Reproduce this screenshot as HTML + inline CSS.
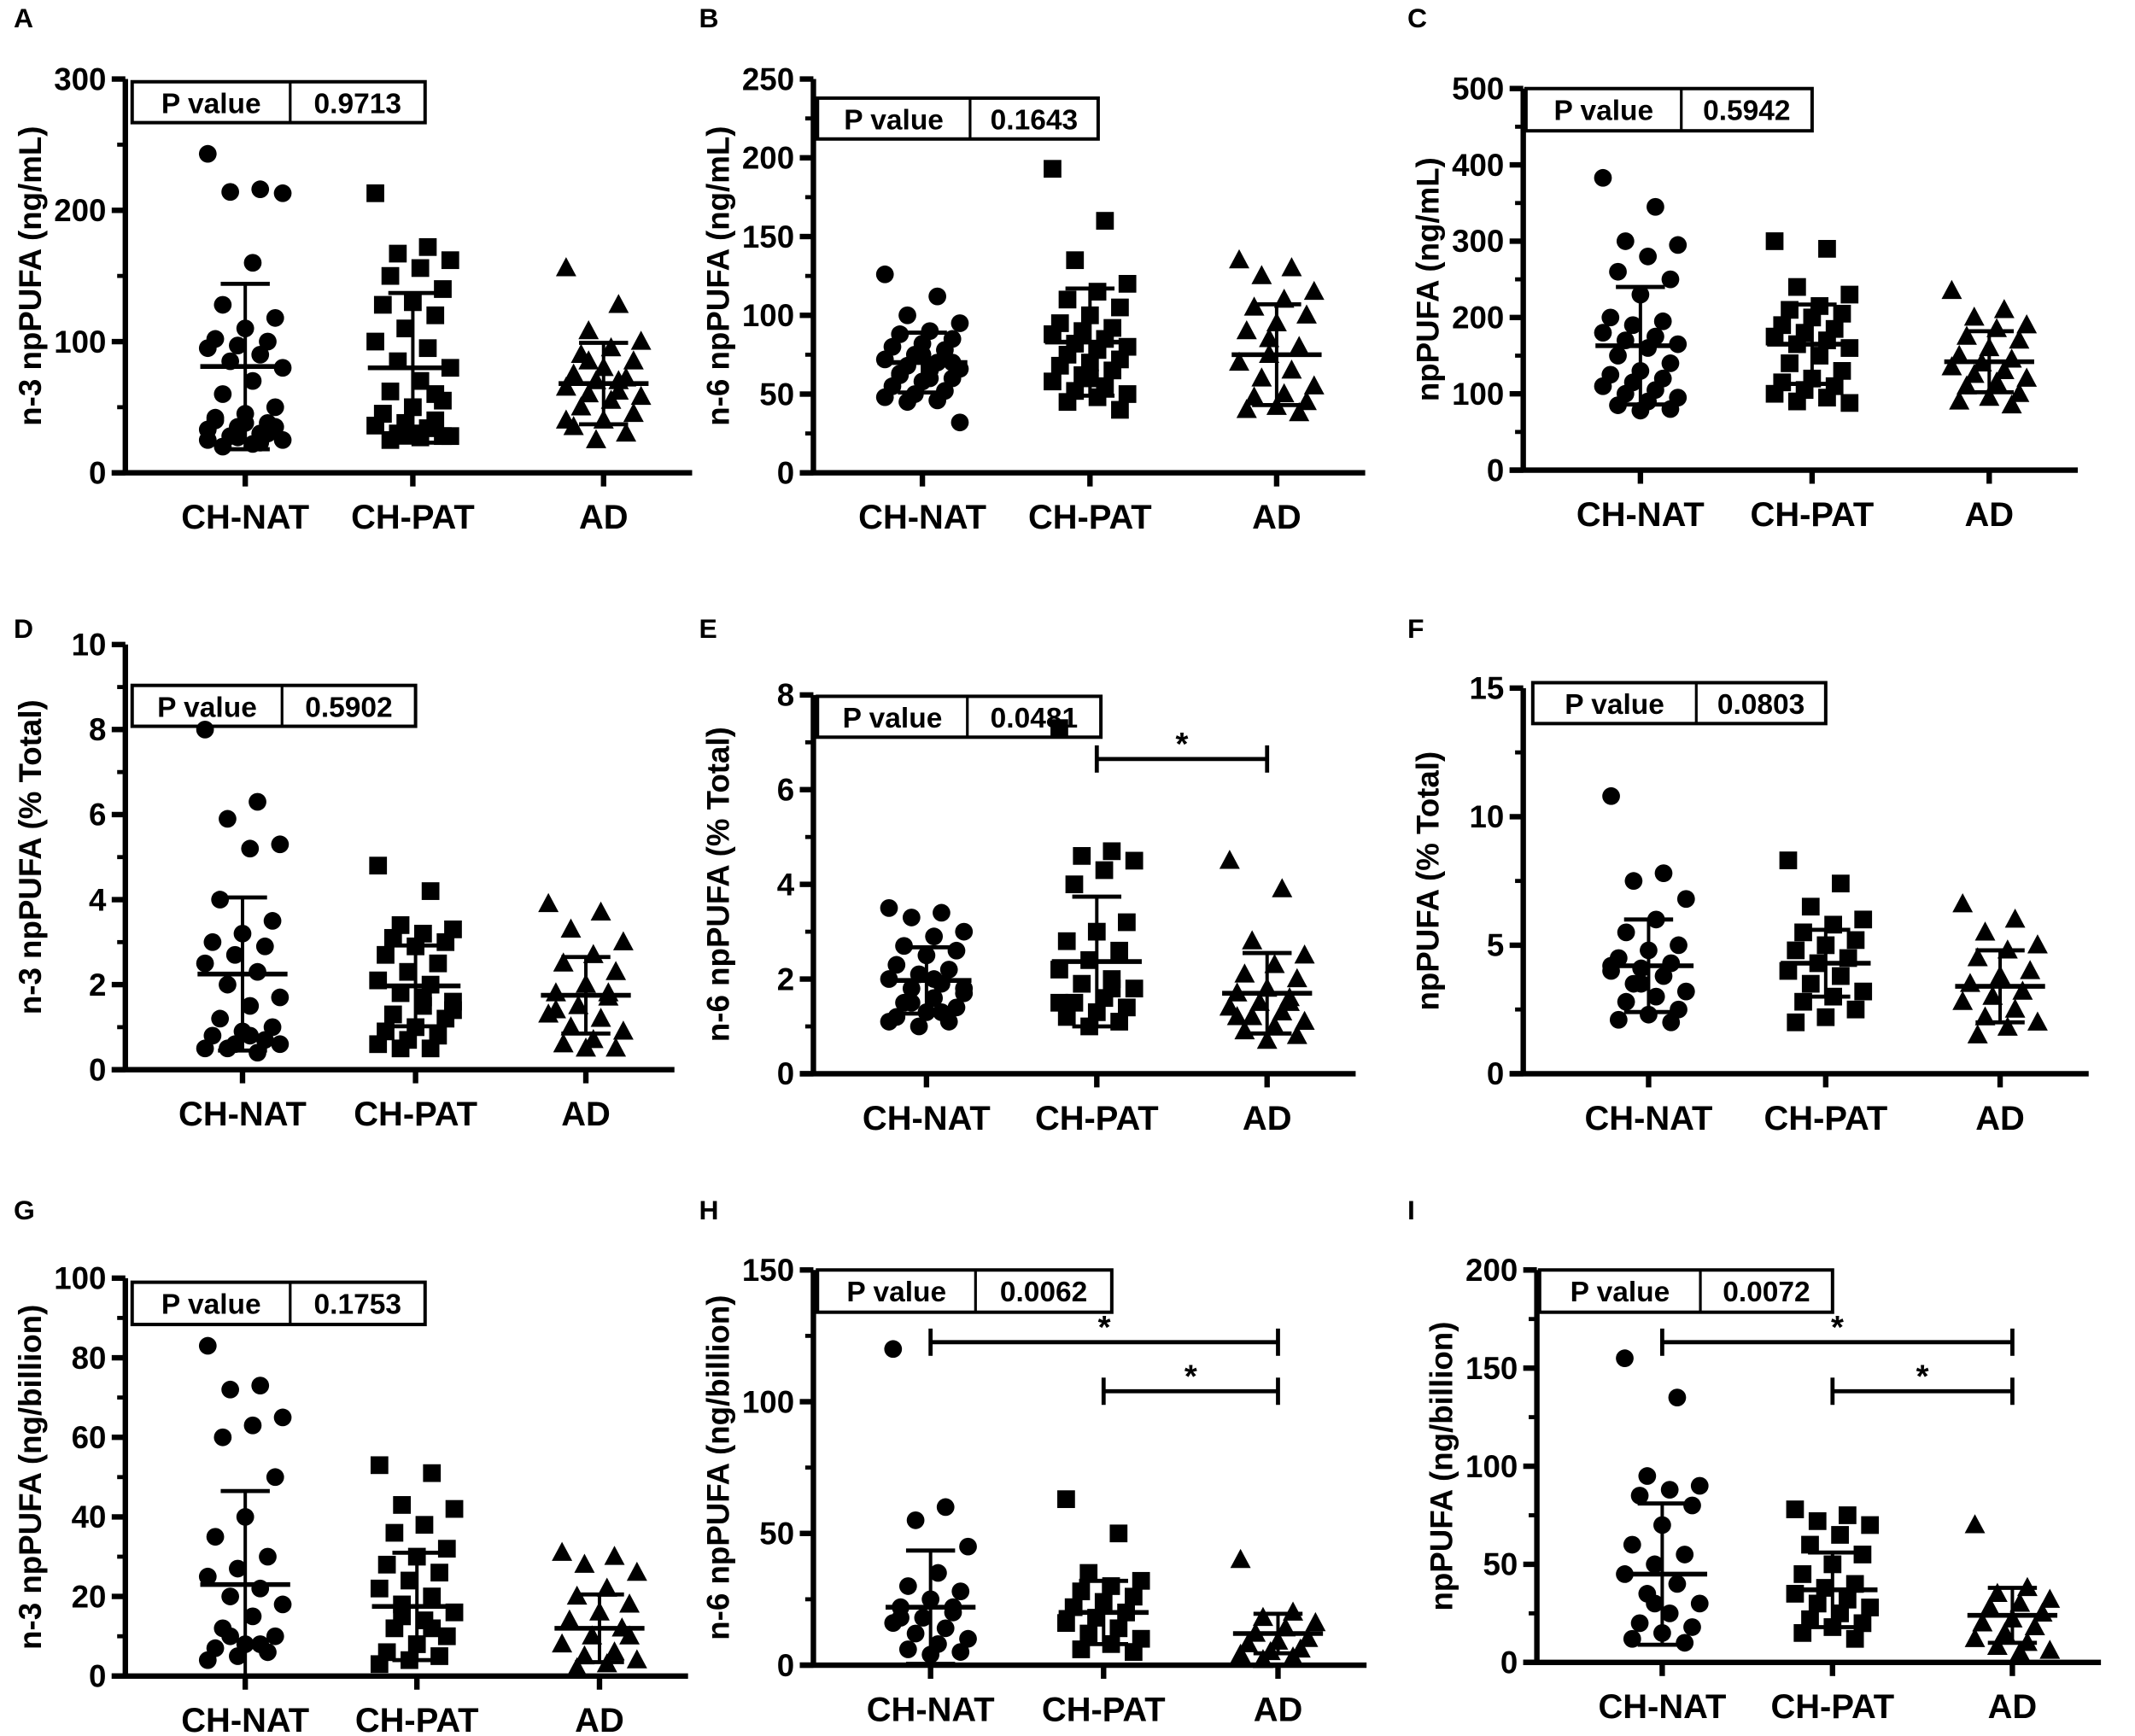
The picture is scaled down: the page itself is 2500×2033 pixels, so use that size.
<!DOCTYPE html>
<html><head><meta charset="utf-8"><style>
html,body{margin:0;padding:0;background:#fff}
svg{display:block}
text{font-family:"Liberation Sans",sans-serif;font-weight:bold;fill:#000}
</style></head><body>
<svg id="fig" width="2500" height="2033" viewBox="0 0 1567 1274" preserveAspectRatio="none" xmlns="http://www.w3.org/2000/svg"></svg>
<script>
const categories = ["CH-NAT","CH-PAT","AD"];
const panelLetters = ["A","B","C","D","E","F","G","H","I"];
const yTitles = ["n-3 npPUFA (ng/mL)","n-6 npPUFA (ng/mL)","npPUFA (ng/mL)","n-3 npPUFA (% Total)","n-6 npPUFA (% Total)","npPUFA (% Total)","n-3 npPUFA (ng/billion)","n-6 npPUFA (ng/billion)","npPUFA (ng/billion)"];
const pValues = ["0.9713","0.1643","0.5942","0.5902","0.0481","0.0803","0.1753","0.0062","0.0072"];
const yMax = [300,250,500,10,8,15,100,150,200];
const yStep = [100,50,100,2,2,5,20,50,50];
const means = [[81,80,68],[70,83,75],[163,165,142],[2.25,1.97,1.75],[1.97,2.37,1.7],[4.2,4.3,3.4],[23,17.5,12],[22,20,12],[45,37,24]];
const sds = [[63,57,31],[19,34,32],[77,52,40],[1.8,0.95,0.9],[0.7,1.37,0.85],[1.8,1.3,1.4],[23.5,13.5,8.5],[21.5,12,7.5],[36,19,14]];
const sigBars = [[],[],[],[],[[1,2]],[],[],[[0,2],[1,2]],[[0,2],[1,2]]];
const pointsA = [[243,216,214,213,160,128,118,110,102,100,97,95,90,85,80,70,60,50,45,40,38,35,33,30,28,25,22,20,35,38,42,30,27,25,23],[213,172,167,162,156,150,140,130,128,120,110,100,95,85,80,70,62,55,50,45,40,38,36,34,30,28,27,25,28,30,45,60],[156,128,108,100,95,90,85,80,75,72,70,65,62,60,58,55,50,45,40,35,30,25,40,70,85]];
const pointsB = [[126,112,100,95,90,88,85,82,80,78,75,72,70,68,66,65,63,60,58,55,52,50,48,46,45,32,60,62,70,75],[193,160,135,120,115,110,105,100,95,92,90,88,85,82,80,78,75,72,70,68,65,62,58,55,52,50,48,45,40,60],[135,130,125,115,110,105,100,95,90,80,75,70,65,60,55,50,48,45,42,40,38,85]];
const pointsC = [[383,345,300,295,280,260,250,230,200,195,190,180,175,170,165,160,150,140,130,125,120,115,110,105,100,95,90,85,80,78],[300,290,240,230,215,210,205,200,190,185,180,175,170,165,160,150,140,130,120,115,110,105,100,95,90,88],[235,210,200,190,185,175,170,160,150,145,140,135,130,125,120,115,110,100,95,90,85]];
const pointsD = [[8,6.3,5.9,5.3,5.2,4,3.5,3.2,3.0,2.9,2.7,2.5,2.3,2.0,1.7,1.5,1.2,1.0,0.9,0.8,0.7,0.6,0.5,0.4,0.5,0.6,0.8],[4.8,4.2,3.4,3.3,3.2,3.1,3.0,2.9,2.7,2.5,2.3,2.1,2.0,1.8,1.6,1.5,1.3,1.2,1.0,0.9,0.8,0.7,0.6,0.5,0.5,1.4,1.7],[3.9,3.7,3.3,3.0,2.7,2.5,2.3,2.0,1.8,1.7,1.5,1.3,1.2,1.0,0.9,0.7,0.6,0.5,0.5,1.4,1.8]];
const pointsE = [[3.5,3.4,3.3,3.0,2.9,2.7,2.6,2.5,2.3,2.2,2.1,2.0,1.9,1.8,1.7,1.6,1.5,1.4,1.3,1.2,1.1,1.0,1.1,1.3,1.5,1.8,2.0],[7.3,4.7,4.6,4.5,4.3,4.0,3.2,3.0,2.8,2.6,2.4,2.2,2.0,1.9,1.8,1.6,1.5,1.4,1.3,1.2,1.1,1.0,1.5,1.8],[4.5,3.9,2.8,2.5,2.3,2.1,2.0,1.8,1.7,1.6,1.5,1.4,1.3,1.2,1.1,1.0,0.9,0.8,0.7,1.2,1.5]];
const pointsF = [[10.8,7.8,7.5,6.8,6.0,5.5,5.0,4.8,4.5,4.3,4.1,4.0,3.8,3.5,3.2,3.0,2.8,2.5,2.3,2.1,2.0,3.5,4.2],[8.3,7.4,6.5,6.0,5.8,5.5,5.2,5.0,4.8,4.5,4.3,4.0,3.8,3.5,3.2,3.0,2.8,2.5,2.2,2.0],[6.6,6.0,5.5,5.0,4.8,4.5,4.0,3.8,3.5,3.2,3.0,2.8,2.5,2.2,2.0,1.8,1.5]];
const pointsG = [[83,73,72,65,63,60,50,40,35,30,27,25,22,20,18,15,12,10,8,7,6,5,4,8,10],[53,51,43,42,38,36,32,30,28,26,24,22,20,18,16,14,12,10,8,6,5,4,3,12,15],[31,30,28,26,22,20,18,16,14,12,10,8,6,5,4,3,2,10]];
const pointsH = [[120,60,55,45,35,30,28,25,22,20,18,16,14,12,10,8,6,5,4,18,22],[63,50,35,32,30,28,26,24,22,20,18,16,14,12,10,8,6,5],[40,20,18,16,14,12,10,9,8,6,5,4,3,2]];
const pointsI = [[155,135,95,90,88,85,80,70,60,55,50,45,40,35,30,25,20,18,15,12,10,30],[78,75,72,70,65,60,55,50,45,40,38,35,32,30,28,25,22,20,18,15,12],[70,38,35,32,30,28,25,22,20,18,15,12,10,8,6,5]];
const allPoints = [pointsA,pointsB,pointsC,pointsD,pointsE,pointsF,pointsG,pointsH,pointsI];

const L = [
 {ax:92,y0:347,yt:58,cx:[180,303,443],pb:[97,312,213,60,90],lx:10,ly:20},
 {ax:597,y0:347,yt:58,cx:[677,800,937],pb:[600,806,712,72,102],lx:513,ly:20},
 {ax:1118,y0:345,yt:65,cx:[1204,1330,1460],pb:[1120,1330,1234,65,96],lx:1033,ly:20},
 {ax:92,y0:785,yt:473,cx:[178,305,430],pb:[97,305,207,503,533],lx:10,ly:468},
 {ax:597,y0:788,yt:510,cx:[680,805,930],pb:[600,808,710,511,541],lx:513,ly:468},
 {ax:1118,y0:788,yt:505,cx:[1210,1340,1468],pb:[1125,1340,1245,501,531],lx:1033,ly:468},
 {ax:92,y0:1230,yt:938,cx:[180,306,440],pb:[97,312,213,941,972],lx:10,ly:895},
 {ax:597,y0:1222,yt:932,cx:[683,810,938],pb:[600,816,716,932,963],lx:513,ly:895},
 {ax:1128,y0:1220,yt:932,cx:[1220,1345,1477],pb:[1130,1345,1248,932,963],lx:1033,ly:895}
];
const NS="http://www.w3.org/2000/svg";
const svg=document.getElementById('fig');
function mk(tag,attrs,parent){const e=document.createElementNS(NS,tag);for(const k in attrs)e.setAttribute(k,attrs[k]);(parent||svg).appendChild(e);return e;}

allPoints.forEach((pts,p)=>{
  const l=L[p];
  const g=mk('g',{});
  
  
  const Y=v=>l.y0-(v/yMax[p])*(l.y0-l.yt);
  const lt=mk('text',{x:l.lx,y:l.ly,'font-size':20},g);lt.textContent=panelLetters[p];
  
  
  const ya=mk('line',{x1:l.ax,x2:l.ax,y1:l.y0,y2:l.yt,stroke:'#000','stroke-width':4},g);
  
  
  for(let v=0;v<=yMax[p]+1e-9;v+=yStep[p]){
    mk('line',{x1:l.ax-10,x2:l.ax,y1:Y(v),y2:Y(v),stroke:'#000','stroke-width':4},g);
    mk('line',{x1:l.ax-6,x2:l.ax,y1:Y(v+yStep[p]/2),y2:Y(v+yStep[p]/2),stroke:'#000','stroke-width':3,display:v+yStep[p]/2<yMax[p]?'inline':'none'},g);
    const t=mk('text',{x:l.ax-14,y:Y(v)+8,'font-size':23,'text-anchor':'end'},g);t.textContent=String(v);
    
    
  }
  const tcx=l.ax-62, tcy=(l.y0+l.yt)/2;
  const yt=mk('text',{x:tcx,y:tcy,'font-size':23,'text-anchor':'middle',transform:`rotate(-90 ${tcx} ${tcy})`},g);
  yt.textContent=yTitles[p];
  
  
  const xa=mk('line',{x1:l.ax-10,x2:l.cx[2]+65,y1:l.y0,y2:l.y0,stroke:'#000','stroke-width':4},g);
  
  
  categories.forEach((c,i)=>{
    mk('line',{x1:l.cx[i],x2:l.cx[i],y1:l.y0,y2:l.y0+10,stroke:'#000','stroke-width':4},g);
    const t=mk('text',{x:l.cx[i],y:l.y0+41,'font-size':25,'text-anchor':'middle'},g);t.textContent=c;
    
    
  });
  const [bx1,bx2,bdv,by1,by2]=l.pb;
  const box=mk('g',{},g);
  
  
  mk('rect',{x:bx1,y:by1,width:bx2-bx1,height:by2-by1,fill:'#fff',stroke:'#000','stroke-width':2.5},box);
  mk('line',{x1:bdv,x2:bdv,y1:by1,y2:by2,stroke:'#000','stroke-width':2},box);
  const t1=mk('text',{x:(bx1+bdv)/2,y:by1+23,'font-size':21,'text-anchor':'middle'},box);t1.textContent='P value';
  const t2=mk('text',{x:(bdv+bx2)/2,y:by1+23,'font-size':21,'text-anchor':'middle'},box);t2.textContent=pValues[p];
  pts.forEach((arr,gi)=>{
    const cx=l.cx[gi];
    arr.forEach((v,i)=>{
      const off=(((i*7)%11)-5)*5.5;
      const x=cx+off, y=Y(v);
      let m;
      if(gi===0) m=mk('circle',{cx:x,cy:y,r:6.5,fill:'#000'},g);
      else if(gi===1) m=mk('rect',{x:x-6.5,y:y-6.5,width:13,height:13,fill:'#000'},g);
      else m=mk('polygon',{points:`${x},${y-8} ${x-7.5},${y+6} ${x+7.5},${y+6}`,fill:'#000'},g);
      
      
    });
    const mv=means[p][gi], sv=sds[p][gi];
    const eb=mk('g',{},g);
    
    
    mk('line',{x1:cx-33,x2:cx+33,y1:Y(mv),y2:Y(mv),stroke:'#000','stroke-width':3.5},eb);
    mk('line',{x1:cx,x2:cx,y1:Y(mv+sv),y2:Y(Math.max(0,mv-sv)),stroke:'#000','stroke-width':2.5},eb);
    mk('line',{x1:cx-18,x2:cx+18,y1:Y(mv+sv),y2:Y(mv+sv),stroke:'#000','stroke-width':3},eb);
    mk('line',{x1:cx-18,x2:cx+18,y1:Y(Math.max(0,mv-sv)),y2:Y(Math.max(0,mv-sv)),stroke:'#000','stroke-width':3},eb);
  });
  sigBars[p].forEach((sb,k)=>{
    const by=p===4?557:(k===0?985:1021);
    const x1=l.cx[sb[0]], x2=l.cx[sb[1]];
    const s=mk('g',{},g);
    
    
    mk('line',{x1:x1,x2:x2,y1:by,y2:by,stroke:'#000','stroke-width':3},s);
    mk('line',{x1:x1,x2:x1,y1:by-10,y2:by+10,stroke:'#000','stroke-width':3},s);
    mk('line',{x1:x2,x2:x2,y1:by-10,y2:by+10,stroke:'#000','stroke-width':3},s);
    const st=mk('text',{x:(x1+x2)/2,y:by-3,'font-size':24,'text-anchor':'middle'},s);st.textContent='*';
  });
});
</script>
</body></html>
